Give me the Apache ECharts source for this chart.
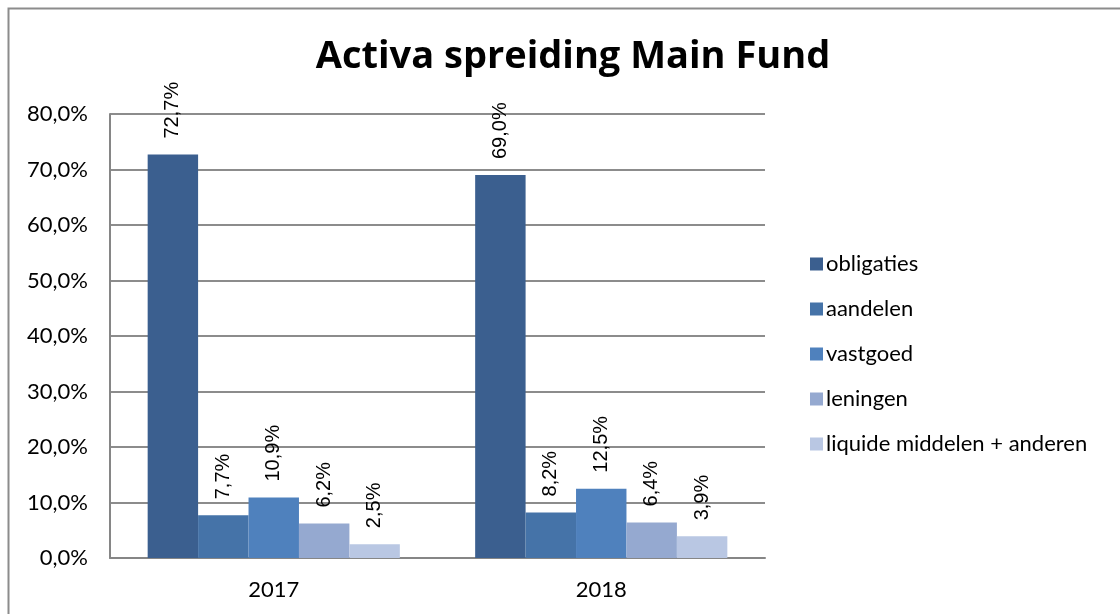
<!DOCTYPE html>
<html>
<head>
<meta charset="utf-8">
<script src="https://cdn.jsdelivr.net/npm/echarts@6/dist/echarts.min.js"></script>
<style>
  html, body { margin: 0; padding: 0; background: #fff; }
  #chart { width: 1120px; height: 614px; }
</style>
</head>
<body>
<div id="chart"></div>
<script>
const years = ['2017', '2018'];
const seriesNames = ['obligaties', 'aandelen', 'vastgoed', 'leningen', 'liquide middelen + anderen'];
const obligaties = [72.7, 69.0];
const aandelen = [7.7, 8.2];
const vastgoed = [10.9, 12.5];
const leningen = [6.2, 6.4];
const liquide = [2.5, 3.9];
const colors = ['#3b5f8f', '#4573a8', '#4f81bd', '#95a9d0', '#b9c7e3'];

const fmt = v => v.toFixed(1).replace('.', ',') + '%';

const chart = echarts.init(document.getElementById('chart'));

const makeSeries = (name, data, idx) => ({
    name,
    type: 'bar',
    data,
    barGap: '0%',
    barCategoryGap: '23%',
    itemStyle: { color: colors[idx] },
    label: {
        show: true,
        position: 'top',
        distance: 16,
        rotate: 90,
        align: 'left',
        verticalAlign: 'middle',
        fontFamily: 'Liberation Sans',
        fontSize: 20,
        color: '#000',
        formatter: p => fmt(p.value),
    },
});

chart.setOption({
    animation: false,
    color: colors,
    title: {
        text: 'Activa spreiding Main Fund',
        left: 568,
        textAlign: 'center',
        top: 33,
        textStyle: {
            fontFamily: 'Open Sans',
            fontWeight: 'bold',
            fontSize: 38,
            color: '#000',
        },
    },
    graphic: [
        {
            type: 'rect',
            shape: { x: 8.5, y: 8.5, width: 1200, height: 700 },
            style: { fill: 'none', stroke: '#8c8c8c', lineWidth: 2 },
            silent: true,
        },
    ],
    legend: {
        orient: 'vertical',
        left: 805,
        top: 248,
        itemWidth: 13,
        itemHeight: 13,
        itemGap: 23,
        icon: 'rect',
        textStyle: { fontFamily: 'Lato', fontSize: 22, color: '#000', padding: [0, 0, 0, -2] },
        data: seriesNames,
    },
    grid: {
        left: 110,
        right: 355,
        top: 114,
        bottom: 56,
        containLabel: false,
    },
    xAxis: {
        type: 'category',
        data: years,
        axisTick: { show: false },
        axisLine: { lineStyle: { color: '#868686', width: 2 } },
        axisLabel: { fontFamily: 'Lato', fontSize: 22, color: '#000', margin: 21 },
    },
    yAxis: {
        type: 'value',
        min: 0,
        max: 80,
        interval: 10,
        axisLine: { show: true, lineStyle: { color: '#868686', width: 2 } },
        axisTick: { show: false },
        splitLine: { lineStyle: { color: '#8c8c8c', width: 2 } },
        axisLabel: {
            fontFamily: 'Lato',
            fontSize: 22,
            color: '#000',
            margin: 22,
            formatter: v => fmt(v),
        },
    },
    series: [
        makeSeries(seriesNames[0], obligaties, 0),
        makeSeries(seriesNames[1], aandelen, 1),
        makeSeries(seriesNames[2], vastgoed, 2),
        makeSeries(seriesNames[3], leningen, 3),
        makeSeries(seriesNames[4], liquide, 4),
    ],
});
</script>
</body>
</html>
